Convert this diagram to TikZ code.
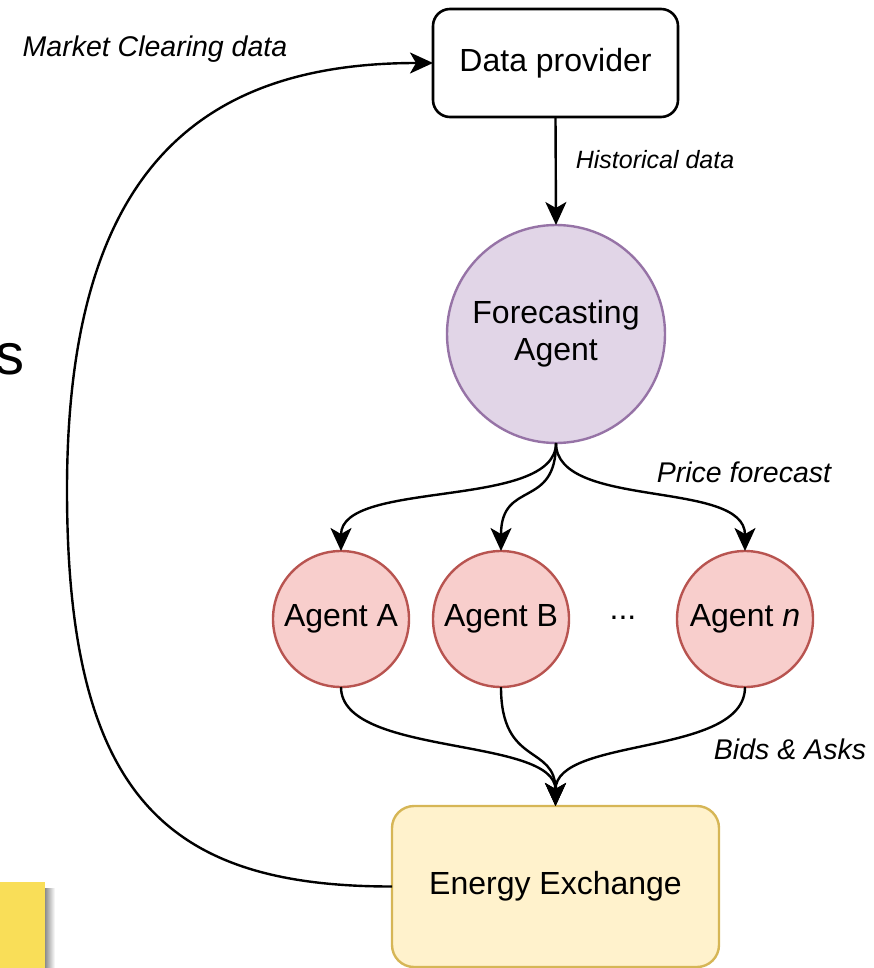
\documentclass[tikz,border=0pt]{standalone}
\usepackage{fontspec}
\setmainfont{Liberation Sans}
\usetikzlibrary{arrows.meta}
\definecolor{purpfill}{HTML}{E1D5E7}
\definecolor{purpline}{HTML}{9673A6}
\definecolor{redfill}{HTML}{F8CECC}
\definecolor{redline}{HTML}{B85450}
\definecolor{yelfill}{HTML}{FFF2CC}
\definecolor{yelline}{HTML}{D6B656}
\definecolor{sidebar}{HTML}{F9DE58}
\begin{document}
\begin{tikzpicture}[x=1pt,y=-1pt,
  every node/.style={inner sep=0pt, outer sep=0pt},
  maintext/.style={font=\fontsize{32}{38}\selectfont, align=center},
  labeltext/.style={font=\fontsize{28.5}{33}\selectfont\itshape},
  providerbox/.style={draw=black, line width=2.6pt, fill=white, rounded corners=17pt,
    minimum width=245pt, minimum height=108pt, maintext},
  forecastnode/.style={circle, draw=purpline, line width=2.4pt, fill=purpfill,
    minimum size=218pt, maintext},
  agentnode/.style={circle, draw=redline, line width=2.4pt, fill=redfill,
    minimum size=136pt, maintext},
  exchangebox/.style={draw=yelline, line width=2.4pt, fill=yelfill, rounded corners=22pt,
    minimum width=327pt, minimum height=161pt, maintext},
  link/.style={line width=2.4pt, draw=black,
    -{Stealth[length=23pt, width=21pt, inset=6pt]}}]
\useasboundingbox (0,0) rectangle (873,968);

% partly visible elements at the left border
\node[anchor=base east, font=\fontsize{58}{66}\selectfont] (stray) at (24,374) {s};
\shade[left color=black!45, right color=white] (45,888) rectangle (55,968);
\fill[sidebar] (0,882) rectangle (45,968);

% main blocks
\node[providerbox] (dp) at (555.5,63) {Data provider};
\node[forecastnode] (fa) at (556,334) {Forecasting\\[-1pt]Agent};
\node[agentnode] (aa) at (341,619) {Agent A};
\node[agentnode] (ab) at (501,619) {Agent B};
\node[agentnode] (an) at (745,619) {Agent \textit{n}};
\node[maintext] (dots) at (623,618) {...};
\node[exchangebox] (ee) at (555.5,886.5) {Energy Exchange};

% labels
\node[labeltext] (lmc) at (155,49) {Market Clearing data};
\node[labeltext, font=\fontsize{25}{30}\selectfont\itshape] (lhd) at (655,160) {Historical data};
\node[labeltext] (lpf) at (744,472) {Price forecast};
\node[labeltext] (lba) at (790,749) {Bids \& Asks};

% connectors
\coordinate (loopleft) at (67,490);
\draw[link] (dp.south) -- (fa.north);
\draw[link] (fa.south) .. controls +(0,67) and +(0,-72) .. (aa.north);
\draw[link] (fa.south) .. controls +(0,67) and +(0,-72) .. (ab.north);
\draw[link] (fa.south) .. controls +(0,67) and +(0,-72) .. (an.north);
\draw[link] (aa.south) .. controls +(0,70) and +(0,-70) .. (ee.north);
\draw[link] (ab.south) .. controls +(0,80) and +(0,-62) .. (ee.north);
\draw[link] (an.south) .. controls +(0,70) and +(0,-70) .. (ee.north);
\draw[link] (ee.west) .. controls (170,886.5) and (67,800) .. (loopleft)
  .. controls (67,170) and (200,63) .. (dp.west);
\end{tikzpicture}
\end{document}
